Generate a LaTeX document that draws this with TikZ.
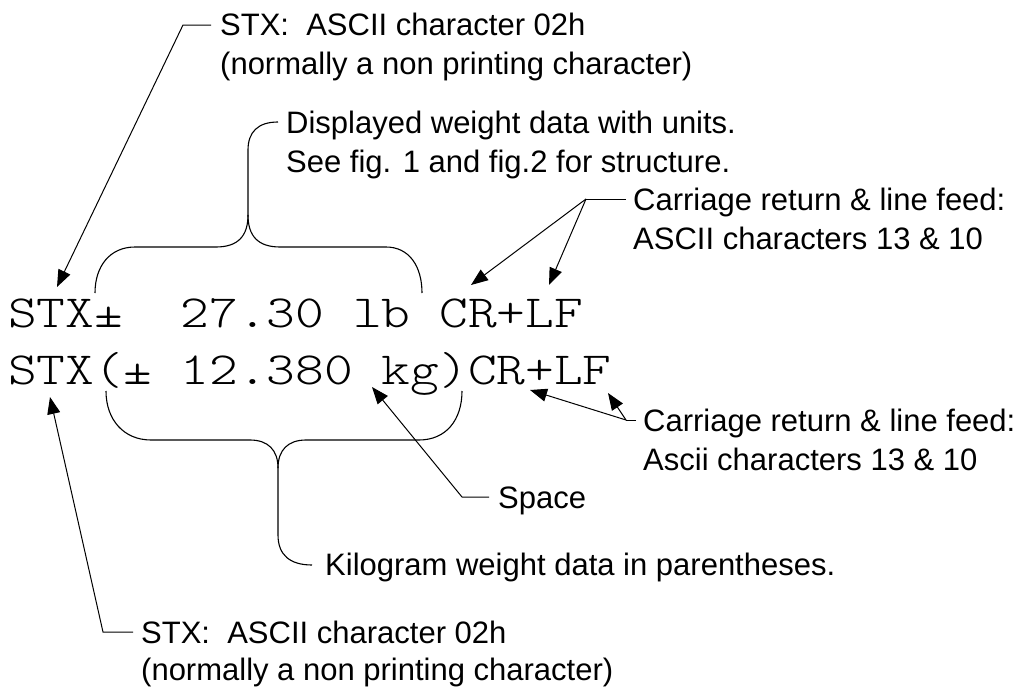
\documentclass[tikz,border=0pt]{standalone}
\usepackage{fontspec}
\usepackage{graphicx}
\setmainfont{Liberation Sans}
\newfontfamily\courfont{lmmonolt10-regular.otf}
\usetikzlibrary{arrows.meta}
\begin{document}
\begin{tikzpicture}[x=1pt,y=-1pt,
  lbl/.style={anchor=base west, inner sep=0pt, font=\fontsize{31}{38}\selectfont},
  mono/.style={anchor=base west, inner sep=0pt, font=\courfont\fontsize{46}{46}\selectfont},
  lead/.style={line width=1pt},
  arr/.style={line width=1pt, -{Triangle[length=17pt,width=13pt]}},
  bracecurve/.style={line width=1.1pt}]
\useasboundingbox (0,0) rectangle (1031,688);

% labels
\node[lbl] (stxTop1) at (220,35) {STX:\ \ ASCII character 02h};
\node[lbl] (stxTop2) at (220,74) {(normally a non printing character)};
\node[lbl] (disp1) at (286,133) {Displayed weight data with units.};
\node[lbl] (disp2) at (286,172) {See fig. 1 and fig.2 for structure.};
\node[lbl] (crTop1) at (633,210) {Carriage return \& line feed:};
\node[lbl] (crTop2) at (633,249) {ASCII characters 13 \& 10};
\node[mono] (line1) at (8,327) {\scalebox{1.19}[1]{STX±\ \ 27.30\ lb\ CR+LF}};
\node[mono] (line2) at (8,384) {\scalebox{1.19}[1]{STX(±\ 12.380\ kg)CR+LF}};
\node[lbl] (crBot1) at (643,431) {Carriage return \& line feed:};
\node[lbl] (crBot2) at (643,470) {Ascii characters 13 \& 10};
\node[lbl] (space) at (498,508) {Space};
\node[lbl] (kg) at (325,575) {Kilogram weight data in parentheses.};
\node[lbl] (stxBot1) at (141,643) {STX:\ \ ASCII character 02h};
\node[lbl] (stxBot2) at (141,680) {(normally a non printing character)};

% top STX leader
\coordinate (a1s) at (211,25);
\coordinate (a1k) at (183,25);
\coordinate (a1t) at (57,287);
\draw[arr] (a1s) -- (a1k) -- (a1t);

% top CR leader
\coordinate (a2s) at (626,199);
\coordinate (a2j) at (586,199);
\coordinate (a2t1) at (471,285);
\coordinate (a2t2) at (549,285);
\draw[lead] (a2s) -- (a2j);
\draw[arr] (a2j) -- (a2t1);
\draw[arr] (a2j) -- (a2t2);

% bottom CR leader
\coordinate (a3s) at (636,420);
\coordinate (a3j) at (626,420);
\coordinate (a3t1) at (530,390);
\coordinate (a3t2) at (608,393);
\draw[lead] (a3s) -- (a3j);
\draw[arr] (a3j) -- (a3t1);
\draw[arr] (a3j) -- (a3t2);

% space leader
\coordinate (a4s) at (489,497);
\coordinate (a4k) at (462,497);
\coordinate (a4t) at (372,387);
\draw[arr] (a4s) -- (a4k) -- (a4t);

% bottom STX leader
\coordinate (a5s) at (133,632);
\coordinate (a5k) at (103,632);
\coordinate (a5t) at (50,397);
\draw[arr] (a5s) -- (a5k) -- (a5t);

% top brace
\coordinate (b1top) at (278,122);
\coordinate (b1mid) at (248,215);
\draw[bracecurve] (b1top) .. controls (258,122) and (248,132) .. (248,150) -- (b1mid);
\draw[bracecurve] (b1mid) .. controls (248,236) and (238,247) .. (216,247) -- (135,247)
   .. controls (110,247) and (95,266) .. (95,293);
\draw[bracecurve] (b1mid) .. controls (248,236) and (258,247) .. (280,247) -- (386,247)
   .. controls (409,247) and (422,266) .. (422,293);

% bottom brace
\coordinate (b2end) at (312,565);
\coordinate (b2mid) at (278,468);
\draw[bracecurve] (b2end) .. controls (290,565) and (278,555) .. (278,535) -- (b2mid);
\draw[bracecurve] (b2mid) .. controls (278,450) and (268,440) .. (250,440) -- (151,440)
   .. controls (124,440) and (106,420) .. (106,391);
\draw[bracecurve] (b2mid) .. controls (278,450) and (288,440) .. (306,440) -- (419,440)
   .. controls (446,440) and (462,420) .. (462,391);
\end{tikzpicture}
\end{document}
